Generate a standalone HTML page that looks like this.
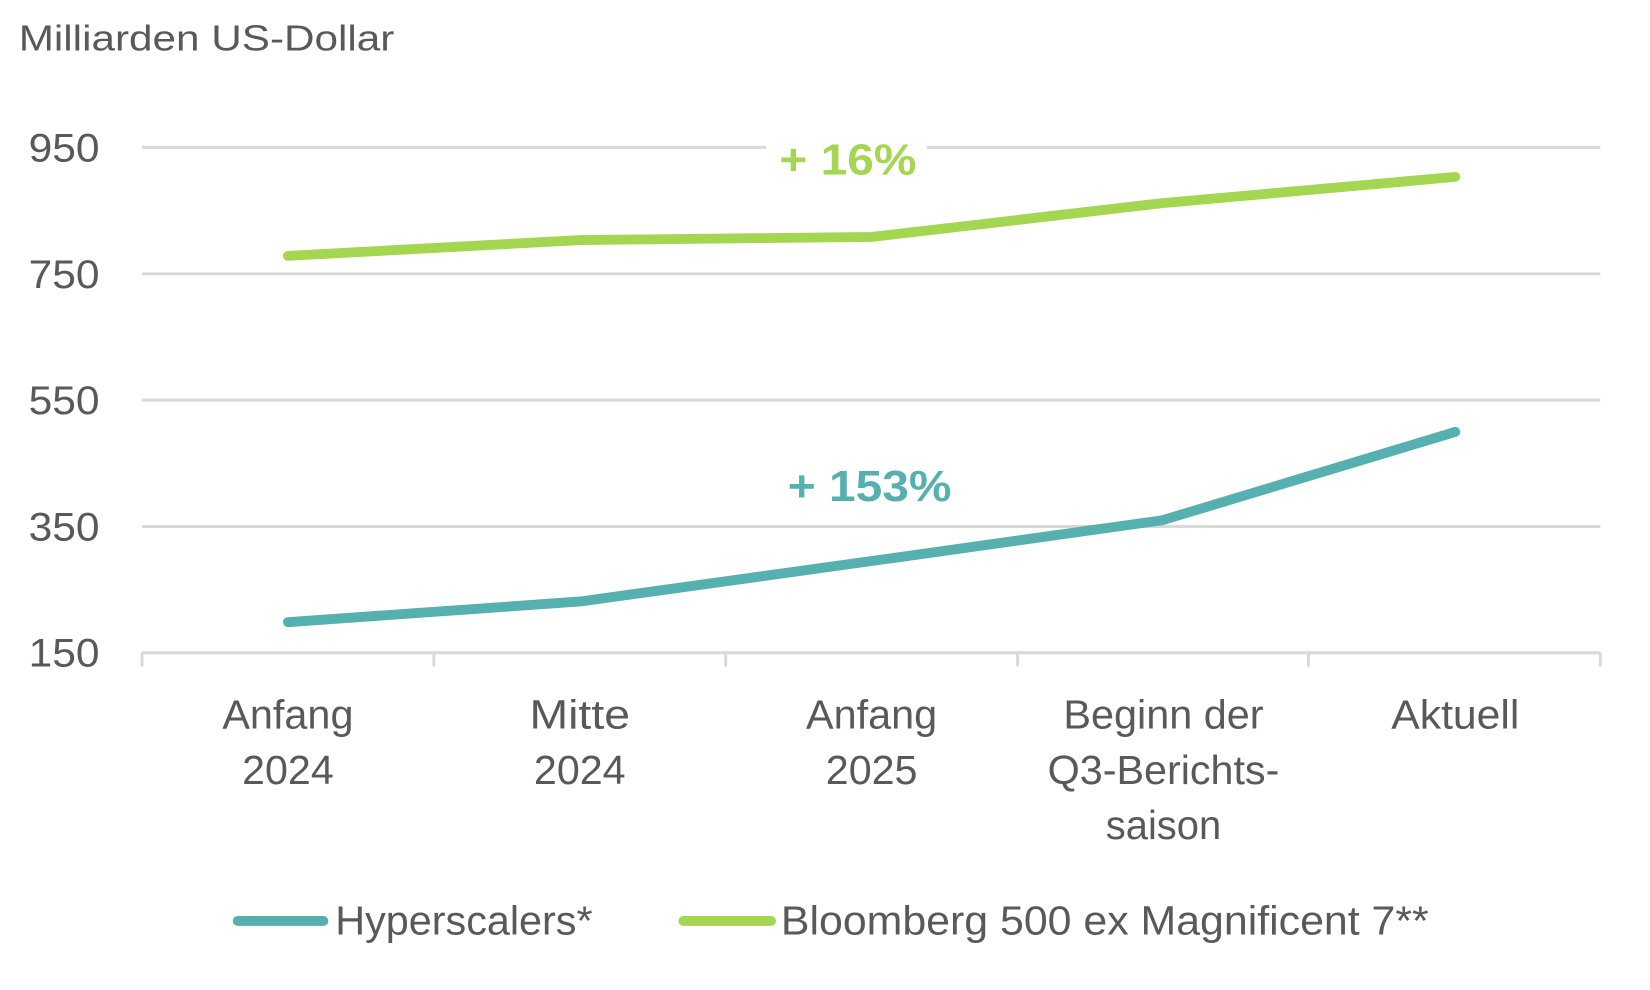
<!DOCTYPE html>
<html><head><meta charset="utf-8"><style>
html,body{margin:0;padding:0;background:#fff;}
svg{display:block;}
text{font-family:"Liberation Sans",sans-serif;fill:#595959;}
</style></head><body>
<svg width="1650" height="990" viewBox="0 0 1650 990" xmlns="http://www.w3.org/2000/svg">
<g transform="scale(0.986)">
<text x="19" y="51" font-size="37" textLength="381" lengthAdjust="spacingAndGlyphs">Milliarden US-Dollar</text>
<g stroke="#d9d9d9" stroke-width="3">
<line x1="144" y1="149.5" x2="1623" y2="149.5"/>
<line x1="144" y1="277.7" x2="1623" y2="277.7"/>
<line x1="144" y1="405.8" x2="1623" y2="405.8"/>
<line x1="144" y1="534" x2="1623" y2="534"/>
<line x1="144" y1="662" x2="1623" y2="662"/>
<line x1="144" y1="662" x2="144" y2="676"/>
<line x1="440" y1="662" x2="440" y2="676"/>
<line x1="736" y1="662" x2="736" y2="676"/>
<line x1="1032" y1="662" x2="1032" y2="676"/>
<line x1="1327" y1="662" x2="1327" y2="676"/>
<line x1="1623" y1="662" x2="1623" y2="676"/>
</g>
<g font-size="40" text-anchor="end">
<text x="101" y="164" textLength="72" lengthAdjust="spacingAndGlyphs">950</text>
<text x="101" y="292" textLength="72" lengthAdjust="spacingAndGlyphs">750</text>
<text x="101" y="420" textLength="72" lengthAdjust="spacingAndGlyphs">550</text>
<text x="101" y="548" textLength="72" lengthAdjust="spacingAndGlyphs">350</text>
<text x="101" y="676" textLength="72" lengthAdjust="spacingAndGlyphs">150</text>
</g>
<g font-size="41" text-anchor="middle">
<text x="292" y="739" textLength="133" lengthAdjust="spacingAndGlyphs">Anfang</text>
<text x="292" y="795" textLength="93" lengthAdjust="spacingAndGlyphs">2024</text>
<text x="588" y="739" textLength="102" lengthAdjust="spacingAndGlyphs">Mitte</text>
<text x="588" y="795" textLength="93" lengthAdjust="spacingAndGlyphs">2024</text>
<text x="884" y="739" textLength="133" lengthAdjust="spacingAndGlyphs">Anfang</text>
<text x="884" y="795" textLength="93" lengthAdjust="spacingAndGlyphs">2025</text>
<text x="1180" y="739" textLength="203" lengthAdjust="spacingAndGlyphs">Beginn der</text>
<text x="1180" y="795" textLength="235" lengthAdjust="spacingAndGlyphs">Q3-Berichts-</text>
<text x="1180" y="851" textLength="117" lengthAdjust="spacingAndGlyphs">saison</text>
<text x="1476" y="739" textLength="130" lengthAdjust="spacingAndGlyphs">Aktuell</text>
</g>
<rect x="777" y="130" width="163" height="50" fill="#fff"/>
<text x="860" y="177" font-size="44" font-weight="bold" text-anchor="middle" style="fill:#a5d651" textLength="139" lengthAdjust="spacingAndGlyphs">+ 16%</text>
<text x="882" y="508" font-size="44" font-weight="bold" text-anchor="middle" style="fill:#56b0b0" textLength="166" lengthAdjust="spacingAndGlyphs">+ 153%</text>
<polyline fill="none" stroke="#a5d651" stroke-width="10" stroke-linecap="round" stroke-linejoin="round" points="292,259.5 588.5,243.5 884,240.3 1179,206 1476,179.4"/>
<polyline fill="none" stroke="#56b0b0" stroke-width="10" stroke-linecap="round" stroke-linejoin="round" points="292,631 588.5,610 884,569 1179,527.6 1476,438"/>
<line x1="241" y1="934" x2="328" y2="934" stroke="#56b0b0" stroke-width="10" stroke-linecap="round"/>
<text x="340" y="948" font-size="41" textLength="261" lengthAdjust="spacingAndGlyphs">Hyperscalers*</text>
<line x1="693" y1="934" x2="782" y2="934" stroke="#a5d651" stroke-width="10" stroke-linecap="round"/>
<text x="792" y="948" font-size="41" textLength="657" lengthAdjust="spacingAndGlyphs">Bloomberg 500 ex Magnificent 7**</text>
</g>
</svg>
</body></html>
